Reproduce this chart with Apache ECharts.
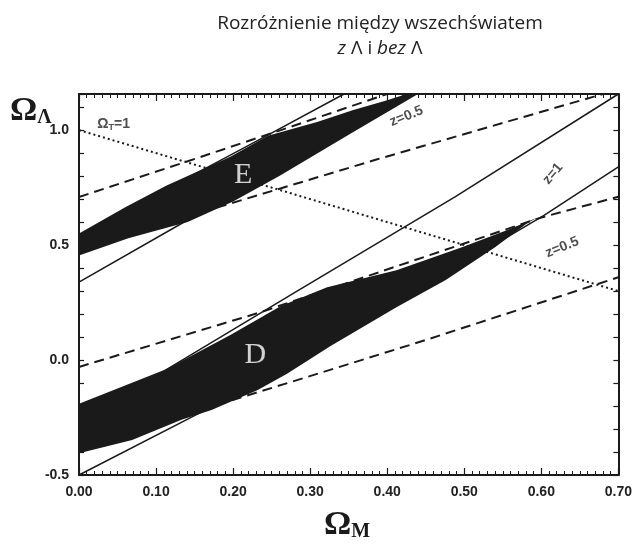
<!DOCTYPE html>
<html>
<head>
<meta charset="utf-8">
<script src="https://cdn.jsdelivr.net/npm/echarts@6/dist/echarts.min.js"></script>
<style>
  html, body { margin: 0; padding: 0; background: #fff; }
  #chart { width: 635px; height: 550px; }
</style>
</head>
<body>
<div id="chart"></div>
<script>
// osie
var xMin = 0, xMax = 0.70;
var yMin = -0.5, yMax = 1.157;

// linia Omega_T = 1
var omegaT1 = [[0, 1.0], [0.70, 0.30]];

// linie ciągłe (z=1)
var eSolidUpper = [[0, 0.54], [0.245, 0.978], [0.344, 1.157]];
var eSolidLower = [[0, 0.339], [0.141, 0.609], [0.43, 1.157]];
var dSolidUpper = [[0, -0.27], [0.283, 0.30], [0.488, 0.71], [0.70, 1.157]];
var dSolidLower = [[0, -0.5], [0.172, -0.204], [0.412, 0.25], [0.604, 0.63], [0.70, 0.84]];

// linie przerywane (z=0.5)
var eDashUpper = [[0, 0.709], [0.138, 0.861], [0.254, 0.991], [0.40, 1.157]];
var eDashLower = [[0, 0.48], [0.177, 0.661], [0.386, 0.872], [0.68, 1.157]];
var dDashUpper = [[0, -0.03], [0.232, 0.204], [0.60, 0.62], [0.70, 0.71]];
var dDashLower = [[0, -0.38], [0.292, -0.078], [0.45, 0.087], [0.70, 0.36]];

// obszary E i D (obrys)
var eRegion = [[0, 0.55], [0.06, 0.665], [0.113, 0.758], [0.197, 0.885], [0.245, 0.975],
    [0.309, 1.035], [0.356, 1.087], [0.40, 1.13], [0.425, 1.157], [0.44, 1.157],
    [0.35, 0.98], [0.26, 0.80], [0.20, 0.69], [0.141, 0.60], [0.064, 0.53], [0, 0.455]];
var dRegion = [[0, -0.19], [0.113, -0.04], [0.197, 0.11], [0.262, 0.235], [0.322, 0.317],
    [0.412, 0.391], [0.497, 0.491], [0.556, 0.565], [0.595, 0.62],
    [0.582, 0.596], [0.54, 0.491], [0.476, 0.348], [0.412, 0.23], [0.326, 0.06],
    [0.27, -0.06], [0.232, -0.13], [0.172, -0.217], [0.133, -0.26], [0.069, -0.348], [0, -0.405]];

// opisy
var regionLabels = [['E', 0.213, 0.804], ['D', 0.229, 0.022]];
var curveLabels = [
    ['{o|Ω}{s|T}{o|=1}', 0.045, 1.025, 0],
    ['z=0.5', 0.425, 1.06, 22],
    ['z=1', 0.615, 0.81, 50],
    ['z=0.5', 0.627, 0.49, 22]
];

var ink = '#1a1a1a';

function lineSeries(data, type, width) {
    return {
        type: 'line',
        data: data,
        symbol: 'none',
        silent: true,
        lineStyle: { color: ink, width: width, type: type },
        z: 3
    };
}

function regionSeries(points) {
    return {
        type: 'custom',
        data: points,
        silent: true,
        clip: true,
        z: 2,
        renderItem: function (params, api) {
            if (params.dataIndex !== 0) return null;
            var pts = points.map(function (p) { return api.coord(p); });
            return { type: 'polygon', shape: { points: pts }, style: { fill: ink } };
        }
    };
}

var tickFont = { color: '#222', fontFamily: 'Liberation Sans', fontWeight: 'bold', fontSize: 14 };

function axisX(pos, showLabel) {
    return {
        type: 'value', position: pos, min: xMin, max: xMax, interval: 0.1,
        axisLine: { onZero: false, lineStyle: { color: ink, width: 2 } },
        axisTick: { inside: true, length: 7, lineStyle: { color: ink, width: 1.2 } },
        minorTick: { show: true, splitNumber: 10, length: 4, lineStyle: { color: ink, width: 1 } },
        splitLine: { show: false },
        axisLabel: Object.assign({
            show: showLabel, margin: 10,
            formatter: function (v) { return v.toFixed(2); }
        }, tickFont)
    };
}

function axisY(pos, showLabel) {
    return {
        type: 'value', position: pos, min: yMin, max: yMax, interval: 0.1,
        axisLine: { onZero: false, lineStyle: { color: ink, width: 2 } },
        axisTick: { inside: true, length: 5, lineStyle: { color: ink, width: 1.2 } },
        splitLine: { show: false },
        axisLabel: Object.assign({
            show: showLabel, margin: 10,
            formatter: function (v) {
                var r = Math.round(v * 10);
                return (r % 5 === 0 && Math.abs(v * 10 - r) < 1e-6) ? (r / 10).toFixed(1) : '';
            }
        }, tickFont)
    };
}

var chart = echarts.init(document.getElementById('chart'));

var series = [
    regionSeries(eRegion),
    regionSeries(dRegion),
    lineSeries(omegaT1, [2, 3], 2),
    lineSeries(eSolidUpper, 'solid', 1.5),
    lineSeries(eSolidLower, 'solid', 1.5),
    lineSeries(dSolidUpper, 'solid', 1.5),
    lineSeries(dSolidLower, 'solid', 1.5),
    lineSeries(eDashUpper, [10, 6], 2),
    lineSeries(eDashLower, [10, 6], 2),
    lineSeries(dDashUpper, [10, 6], 2),
    lineSeries(dDashLower, [10, 6], 2),
    {
        type: 'scatter',
        symbolSize: 0,
        silent: true,
        z: 5,
        data: regionLabels.map(function (r) { return { name: r[0], value: [r[1], r[2]] }; }),
        label: {
            show: true, position: 'inside', formatter: '{b}',
            color: '#fff', fontFamily: 'Liberation Serif', fontSize: 30
        }
    },
    {
        type: 'scatter',
        symbolSize: 0,
        silent: true,
        z: 5,
        data: curveLabels.map(function (r) {
            return { name: r[0], value: [r[1], r[2]], label: { rotate: r[3] } };
        }),
        label: {
            show: true, position: 'inside', formatter: '{b}',
            color: '#222', fontFamily: 'Liberation Sans', fontWeight: 'bold', fontSize: 14,
            rich: {
                o: { fontFamily: 'Liberation Sans', fontWeight: 'bold', fontSize: 14, color: '#222' },
                s: { fontFamily: 'Liberation Sans', fontWeight: 'bold', fontSize: 9, color: '#222', padding: [7, 0, 0, 0] }
            }
        }
    }
];

chart.setOption({
    backgroundColor: '#fff',
    animation: false,
    title: {
        text: 'Rozróżnienie między wszechświatem\n{i|z} Λ i {i|bez} Λ',
        left: 375,
        top: 6,
        textAlign: 'center',
        textStyle: {
            fontFamily: 'Open Sans', fontWeight: 'normal', fontSize: 19, color: '#222', lineHeight: 25,
            rich: {
                i: { fontFamily: 'Open Sans', fontStyle: 'italic', fontSize: 19, color: '#222', lineHeight: 25 }
            }
        }
    },
    grid: { left: 79, right: 10, top: 94, bottom: 75 },
    xAxis: [axisX('bottom', true), axisX('top', false)],
    yAxis: [axisY('left', true), axisY('right', false)],
    series: series,
    graphic: [
        {
            type: 'text', left: 10, top: 94,
            style: {
                text: '{o|Ω}{s|Λ}',
                rich: {
                    o: { fontFamily: 'Liberation Serif', fontWeight: 'bold', fontSize: 34, fill: '#1a1a1a' },
                    s: { fontFamily: 'Liberation Serif', fontWeight: 'bold', fontSize: 20, fill: '#1a1a1a', padding: [14, 0, 0, 0] }
                }
            }
        },
        {
            type: 'text', left: 324, top: 508,
            style: {
                text: '{o|Ω}{s|M}',
                rich: {
                    o: { fontFamily: 'Liberation Serif', fontWeight: 'bold', fontSize: 34, fill: '#1a1a1a' },
                    s: { fontFamily: 'Liberation Serif', fontWeight: 'bold', fontSize: 20, fill: '#1a1a1a', padding: [14, 0, 0, 0] }
                }
            }
        }
    ]
});

// zmiana rozmiaru
window.addEventListener('resize', function () {
    chart.resize();
});
</script>
</body>
</html>
